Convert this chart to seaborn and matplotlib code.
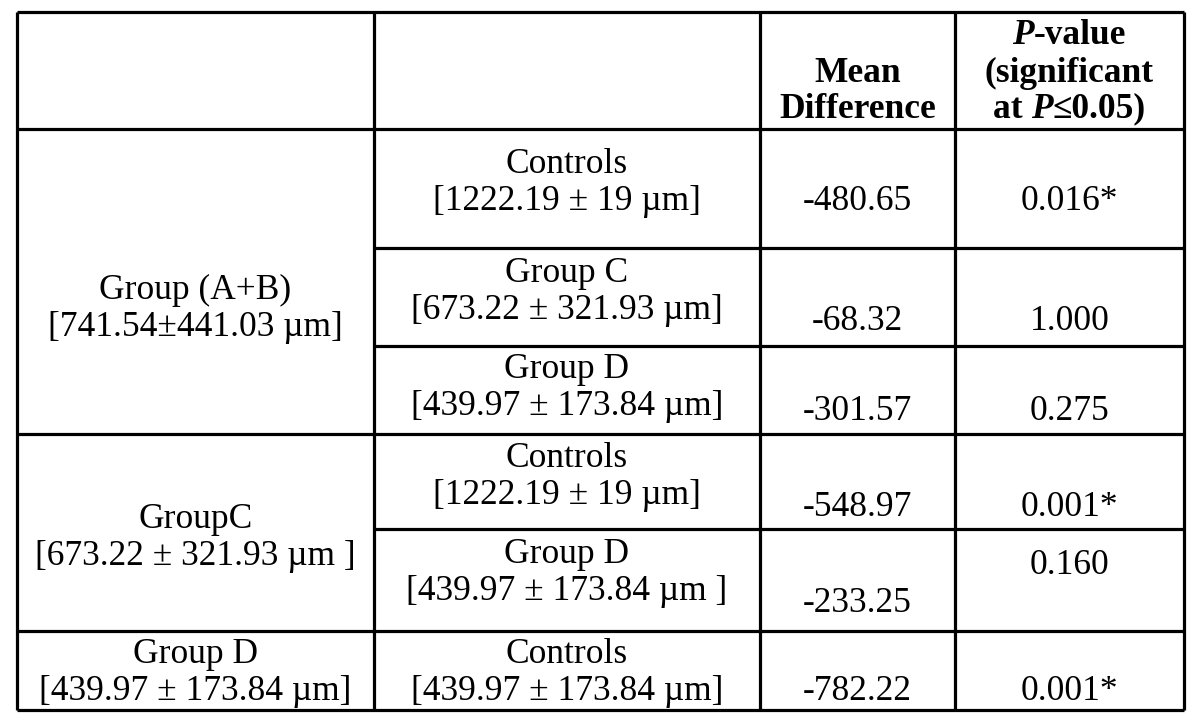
import matplotlib
matplotlib.use("Agg")
import matplotlib.pyplot as plt
import seaborn as sns
from matplotlib.offsetbox import TextArea, HPacker, AnnotationBbox

sns.set_theme(style="white")
plt.rcParams['font.family'] = ['Liberation Serif', 'DejaVu Serif']
plt.rcParams['text.color'] = 'black'

# table data
groups = ["Group (A+B)\n[741.54±441.03 µm]",
          "GroupC\n[673.22 ± 321.93 µm ]",
          "Group D\n[439.97 ± 173.84 µm]"]
comparisons = ["Controls\n[1222.19 ± 19 µm]",
               "Group C\n[673.22 ± 321.93 µm]",
               "Group D\n[439.97 ± 173.84 µm]",
               "Controls\n[1222.19 ± 19 µm]",
               "Group D\n[439.97 ± 173.84 µm ]",
               "Controls\n[439.97 ± 173.84 µm]"]
mean_diff = [-480.65, -68.32, -301.57, -548.97, -233.25, -782.22]
p_values = ["0.016*", "1.000", "0.275", "0.001*", "0.160", "0.001*"]

# layout (pixel coords)
col_x = [17, 374, 760, 955, 1184]
row_y = [12, 129, 248, 346, 434, 529, 631, 710]
fs = 25.5
lh = 37  # line height

fig = plt.figure(figsize=(12, 7.22), dpi=100)
ax = fig.add_axes([0, 0, 1, 1])
ax.set_xlim(0, 1200)
ax.set_ylim(722, 0)
ax.axis('off')

lw = 2.3
# outer border + column lines
ax.vlines(col_x, row_y[0], row_y[-1], color='black', lw=lw)
ax.hlines([row_y[0], row_y[1], row_y[-1]], col_x[0], col_x[-1], color='black', lw=lw)
# group separators across whole width
ax.hlines([row_y[4], row_y[6]], col_x[0], col_x[-1], color='black', lw=lw)
# inner row separators (cols 2-4 only)
ax.hlines([row_y[2], row_y[3], row_y[5]], col_x[1], col_x[-1], color='black', lw=lw)


def two_lines(x, yc, txt, **kw):
    lines = txt.split("\n")
    for k, s in enumerate(lines):
        ax.text(x, yc + (k - (len(lines) - 1) / 2) * lh, s, ha='center',
                va='center', fontsize=fs, color='black', **kw)


def mixed(x, y, parts):
    boxes = [TextArea(s, textprops=dict(fontsize=fs, fontweight='bold',
                                        fontstyle=st, color='black',
                                        family=['Liberation Serif', 'DejaVu Serif']))
             for s, st in parts]
    pack = HPacker(children=boxes, pad=0, sep=0, align='baseline')
    ab = AnnotationBbox(pack, (x, y), xycoords='data', frameon=False,
                        box_alignment=(0.5, 0.5), pad=0)
    ax.add_artist(ab)


# header
c3 = (col_x[2] + col_x[3]) / 2
c4 = (col_x[3] + col_x[4]) / 2
ax.text(c3, 73, "Mean", ha='center', va='center', fontsize=fs, fontweight='bold', color='black')
ax.text(c3, 109, "Difference", ha='center', va='center', fontsize=fs, fontweight='bold', color='black')
mixed(c4, 36, [("P", 'italic'), ("-value", 'normal')])
mixed(c4, 73, [("(significant", 'normal')])
mixed(c4, 109, [("at ", 'normal'), ("P", 'italic'), ("≤0.05)", 'normal')])

# group column (merged cells)
c1 = (col_x[0] + col_x[1]) / 2
group_y = [309, 538, 673]
for g, yc in zip(groups, group_y):
    two_lines(c1, yc, g)

# comparison rows
c2 = (col_x[1] + col_x[2]) / 2
comp_y = [183, 292, 388, 477, 573, 673]
val_y = [201, 322, 412, 507, 603, 691]
p_y = [201, 322, 412, 507, 566, 691]
for comp, md, pv, yc, yv, yp in zip(comparisons, mean_diff, p_values, comp_y, val_y, p_y):
    two_lines(c2, yc, comp)
    ax.text(c3, yv, f"{md:.2f}", ha='center', va='center', fontsize=fs, color='black')
    ax.text(c4, yp, pv, ha='center', va='center', fontsize=fs, color='black')

fig.savefig("out.png", dpi=100, facecolor='white')
